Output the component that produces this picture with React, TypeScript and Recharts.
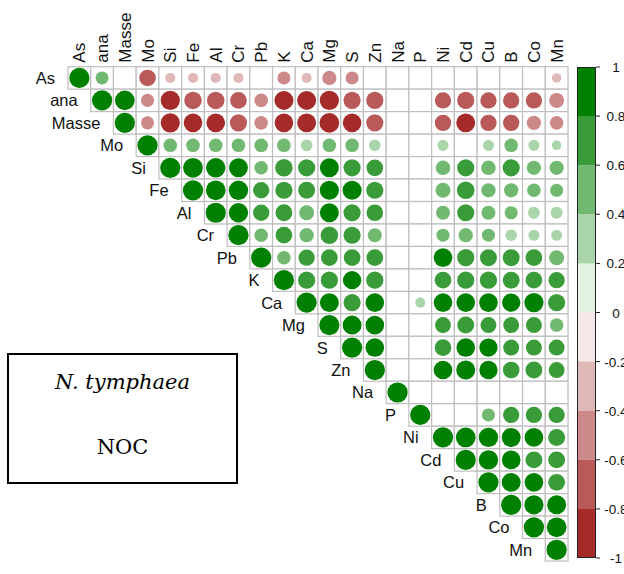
import { Bar, BarChart, Scatter, ScatterChart, XAxis, YAxis } from "recharts";

const vars = ["As", "ana", "Masse", "Mo", "Si", "Fe", "Al", "Cr", "Pb", "K", "Ca", "Mg", "S", "Zn", "Na", "P", "Ni", "Cd", "Cu", "B", "Co", "Mn"];

// Upper triangle only: each row starts at its own diagonal cell. null = blank cell.
const rowAs = [1, 0.41, null, -0.67, -0.25, -0.25, -0.25, -0.25, null, -0.42, -0.25, -0.5, -0.42, null, null, null, null, null, null, null, null, -0.22];
const rowAna = [1, 0.95, -0.42, -0.9, -0.75, -0.75, -0.68, -0.45, -0.88, -0.88, -0.9, -0.72, -0.72, null, null, -0.65, -0.72, -0.65, -0.65, -0.65, -0.55];
const rowMasse = [1, -0.42, -0.9, -0.85, -0.85, -0.72, -0.45, -0.85, -0.88, -0.95, -0.85, -0.72, null, null, -0.65, -0.88, -0.65, -0.65, -0.5, -0.45];
const rowMo = [1, 0.45, 0.45, 0.45, 0.45, 0.45, 0.45, 0.33, 0.45, 0.45, 0.33, null, null, 0.3, null, 0.3, 0.45, 0.3, 0.22];
const rowSi = [1, 0.95, 0.92, 0.88, 0.45, 0.75, 0.72, 0.88, 0.72, 0.68, null, null, 0.52, 0.72, 0.52, 0.72, 0.5, 0.5];
const rowFe = [1, 0.95, 0.92, 0.65, 0.72, 0.7, 0.9, 0.88, 0.72, null, null, 0.55, 0.75, 0.5, 0.5, 0.45, 0.42];
const rowAl = [1, 0.92, 0.65, 0.7, 0.55, 0.88, 0.72, 0.68, null, null, 0.48, 0.72, 0.48, 0.42, 0.35, 0.35];
const rowCr = [1, 0.45, 0.68, 0.5, 0.75, 0.72, 0.48, null, null, 0.42, 0.5, 0.42, 0.33, 0.3, 0.3];
const rowPb = [1, 0.45, 0.65, 0.68, 0.68, 0.68, null, null, 0.85, 0.72, 0.7, 0.7, 0.68, 0.55];
const rowK = [1, 0.72, 0.72, 0.82, 0.72, null, null, 0.68, 0.72, 0.72, 0.7, 0.68, 0.65];
const rowCa = [1, 0.88, 0.72, 0.85, null, 0.25, 0.85, 0.85, 0.85, 0.82, 0.9, 0.72];
const rowMg = [1, 0.88, 0.85, null, null, 0.62, 0.7, 0.62, 0.62, 0.62, 0.45];
const rowS = [1, 0.85, null, null, 0.68, 0.85, 0.82, 0.62, 0.62, 0.62];
const rowZn = [1, null, null, 0.85, 0.88, 0.82, 0.68, 0.7, 0.62];
const rowNa = [1, null, null, null, null, null, null, null];
const rowP = [1, null, null, 0.42, 0.65, 0.65, 0.65];
const rowNi = [1, 0.95, 0.92, 0.88, 0.85, 0.7];
const rowCd = [1, 0.92, 0.85, 0.7, 0.7];
const rowCu = [1, 0.88, 0.85, 0.7];
const rowB = [1, 0.9, 0.88];
const rowCo = [1, 0.95];
const rowMn = [1];

const corrRows = [rowAs, rowAna, rowMasse, rowMo, rowSi, rowFe, rowAl, rowCr, rowPb, rowK, rowCa, rowMg, rowS, rowZn, rowNa, rowP, rowNi, rowCd, rowCu, rowB, rowCo, rowMn];

const legendBreaks = [-1, -0.8, -0.6, -0.4, -0.2, 0, 0.2, 0.4, 0.6, 0.8, 1];

// brown -> white -> green ramp, one colour per 0.2 bin
const palette = ["#A52A2A", "#B95959", "#CD8989", "#E1B8B8", "#F5E7E7", "#E3F1E3", "#AAD5AA", "#71B871", "#399C39", "#008000"];

const N = vars.length;
const PLOT_L = 68;
const PLOT_R = 568;
const PLOT_T = 66.7;
const PLOT_B = 561;
const CELL_W = (PLOT_R - PLOT_L) / N;
const CELL_H = (PLOT_B - PLOT_T) / N;
const MAX_R = 0.45 * Math.min(CELL_W, CELL_H);
const SANS = "'Liberation Sans', Arial, sans-serif";

function colorFor(v: number): string {
  const idx = Math.max(0, Math.min(9, Math.floor((v + 1) / 0.2)));
  return palette[idx];
}

const cells: { x: number; y: number }[] = [];
const dots: { x: number; y: number; v: number }[] = [];
corrRows.forEach((row, i) => {
  row.forEach((v, k) => {
    const j = i + k;
    cells.push({ x: j + 0.5, y: i + 0.5 });
    if (v !== null) dots.push({ x: j + 0.5, y: i + 0.5, v });
  });
});
const diag = vars.map((name, i) => ({ x: i + 0.5, y: i + 0.5, name }));

const legendRow: Record<string, number | string> = { name: "legend" };
for (let i = 0; i < 10; i++) {
  legendRow["b" + i] = i < 5 ? legendBreaks[i] - legendBreaks[i + 1] : legendBreaks[i + 1] - legendBreaks[i];
}
// stack outward from 0: positives upward, then negatives downward
const legendOrder = [5, 6, 7, 8, 9, 4, 3, 2, 1, 0];

const CellShape = (p: any) => (
  <rect
    x={p.cx - CELL_W / 2}
    y={p.cy - CELL_H / 2}
    width={CELL_W}
    height={CELL_H}
    fill="#fff"
    stroke="#BEBEBE"
    strokeWidth={1.2}
  />
);

const DotShape = (p: any) => (
  <circle cx={p.cx} cy={p.cy} r={MAX_R * Math.sqrt(Math.abs(p.payload.v))} fill={colorFor(p.payload.v)} />
);

const RowLabel = (p: any) => (
  <text x={p.cx - CELL_W / 2 - 13} y={p.cy + 6} textAnchor="end" fontFamily={SANS} fontSize={16.5} fill="#111">
    {p.payload.name}
  </text>
);

const ColTick = (p: any) => (
  <text
    transform={`translate(${p.x + 6}, ${PLOT_T - 4}) rotate(-90)`}
    textAnchor="start"
    fontFamily={SANS}
    fontSize={17}
    fill="#111"
  >
    {vars[Math.floor(p.payload.value)]}
  </text>
);

const LegendTick = (p: any) => (
  <text x={p.x + 16} y={p.y + 5} textAnchor="middle" fontFamily={SANS} fontSize={13.5} fill="#111">
    {String(Math.round(p.payload.value * 10) / 10)}
  </text>
);

export default function App() {
  return (
    <div style={{ position: "absolute", left: 0, top: 0, width: 624, height: 574, background: "#fff", overflow: "hidden" }}>
      <ScatterChart width={624} height={574} margin={{ top: PLOT_T - 60, right: 624 - PLOT_R, bottom: 574 - PLOT_B, left: PLOT_L }}>
        <XAxis
          type="number"
          dataKey="x"
          domain={[0, N]}
          orientation="top"
          ticks={vars.map((_, i) => i + 0.5)}
          interval={0}
          height={60}
          axisLine={false}
          tickLine={false}
          tickSize={0}
          tick={<ColTick />}
        />
        <YAxis type="number" dataKey="y" domain={[0, N]} reversed hide />
        <Scatter data={cells} shape={CellShape} isAnimationActive={false} />
        <Scatter data={dots} shape={DotShape} isAnimationActive={false} />
        <Scatter data={diag} shape={RowLabel} isAnimationActive={false} />
      </ScatterChart>

      <div style={{ position: "absolute", left: 577, top: 57 }}>
        <BarChart
          width={47}
          height={511}
          data={[legendRow]}
          stackOffset="sign"
          barCategoryGap={0}
          margin={{ top: 10, bottom: 10, left: 0, right: 0 }}
        >
          <XAxis dataKey="name" hide />
          <YAxis
            orientation="right"
            type="number"
            domain={[-1, 1]}
            allowDataOverflow
            ticks={legendBreaks}
            interval={0}
            width={28}
            axisLine={false}
            tickSize={4}
            tickMargin={0}
            tickLine={{ stroke: "#222" }}
            tick={<LegendTick />}
          />
          {legendOrder.map((i) => (
            <Bar key={i} dataKey={"b" + i} stackId="a" fill={palette[i]} isAnimationActive={false} />
          ))}
        </BarChart>
      </div>
      <div
        style={{
          position: "absolute",
          left: 577,
          top: 67,
          width: 19,
          height: 491,
          border: "1px solid #222",
          boxSizing: "border-box",
          pointerEvents: "none",
        }}
      />

      <div
        style={{
          position: "absolute",
          left: 7,
          top: 353,
          width: 231,
          height: 131,
          border: "2px solid #000",
          boxSizing: "border-box",
        }}
      />
      <div
        style={{
          position: "absolute",
          left: 7,
          width: 231,
          top: 372,
          textAlign: "center",
          fontFamily: "'DejaVu Serif', serif",
          fontStyle: "italic",
          fontSize: 21,
          lineHeight: "21px",
        }}
      >
        N. tymphaea
      </div>
      <div
        style={{
          position: "absolute",
          left: 7,
          width: 231,
          top: 437,
          textAlign: "center",
          fontFamily: "'DejaVu Serif', serif",
          fontSize: 21,
          lineHeight: "21px",
        }}
      >
        NOC
      </div>
    </div>
  );
}
